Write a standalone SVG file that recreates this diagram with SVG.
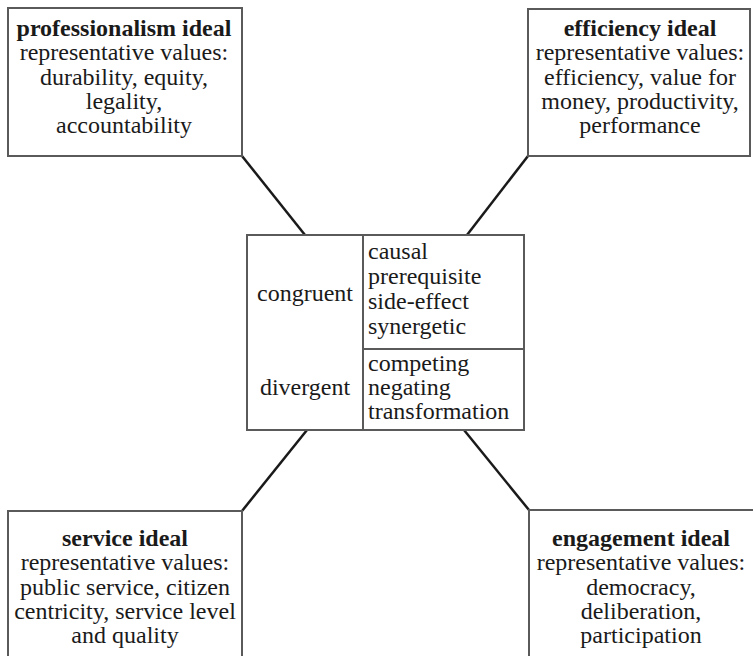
<svg xmlns="http://www.w3.org/2000/svg" width="753" height="656" viewBox="0 0 753 656">
<style>
  .box { fill: #ffffff; stroke: #5a5a5a; stroke-width: 2; }
  .conn { stroke: #1a1a1a; stroke-width: 2.5; fill: none; }
  text { font-family: 'Liberation Serif', Tinos, 'Times New Roman', Times, 'DejaVu Serif', serif; font-size: 24px; fill: #1a1a1a; }
  .c { text-anchor: middle; }
  .b { font-weight: bold; }
</style>
<rect width="753" height="656" fill="#ffffff"/>
<g id="connectors">
  <line class="conn" x1="242" y1="156" x2="305" y2="235"/>
  <line class="conn" x1="528" y1="156" x2="467" y2="235"/>
  <line class="conn" x1="307" y1="430" x2="242" y2="511"/>
  <line class="conn" x1="464" y1="430" x2="529" y2="510"/>
</g>
<g id="professionalism" font-family="Liberation Serif, serif">
  <rect class="box" x="8" y="8" width="234" height="148"/>
  <text class="c b" x="124" y="36">professionalism ideal</text>
  <text class="c" x="124" y="60">representative values:</text>
  <text class="c" x="124" y="85">durability, equity,</text>
  <text class="c" x="124" y="109">legality,</text>
  <text class="c" x="124" y="133">accountability</text>
</g>
<g id="efficiency">
  <rect class="box" x="528" y="9" width="222" height="147"/>
  <text class="c b" x="640" y="36">efficiency ideal</text>
  <text class="c" x="640" y="60">representative values:</text>
  <text class="c" x="640" y="85">efficiency, value for</text>
  <text class="c" x="640" y="109">money, productivity,</text>
  <text class="c" x="640" y="133">performance</text>
</g>
<g id="center">
  <rect class="box" x="247" y="235" width="277" height="195"/>
  <line class="box" x1="363" y1="235" x2="363" y2="430"/>
  <line class="box" x1="363" y1="349" x2="524" y2="349"/>
  <text class="c" x="305" y="301">congruent</text>
  <text class="c" x="305" y="395">divergent</text>
  <text x="368" y="259">causal</text>
  <text x="368" y="284">prerequisite</text>
  <text x="368" y="309">side-effect</text>
  <text x="368" y="334">synergetic</text>
  <text x="368" y="371">competing</text>
  <text x="368" y="395">negating</text>
  <text x="368" y="419">transformation</text>
</g>
<g id="service">
  <rect class="box" x="8" y="511" width="234" height="160"/>
  <text class="c b" x="125" y="546">service ideal</text>
  <text class="c" x="125" y="570">representative values:</text>
  <text class="c" x="125" y="595">public service, citizen</text>
  <text class="c" x="125" y="619">centricity, service level</text>
  <text class="c" x="125" y="643">and quality</text>
</g>
<g id="engagement">
  <rect class="box" x="529" y="510" width="240" height="160"/>
  <text class="c b" x="641" y="546">engagement ideal</text>
  <text class="c" x="641" y="570">representative values:</text>
  <text class="c" x="641" y="595">democracy,</text>
  <text class="c" x="641" y="619">deliberation,</text>
  <text class="c" x="641" y="643">participation</text>
</g>
</svg>
